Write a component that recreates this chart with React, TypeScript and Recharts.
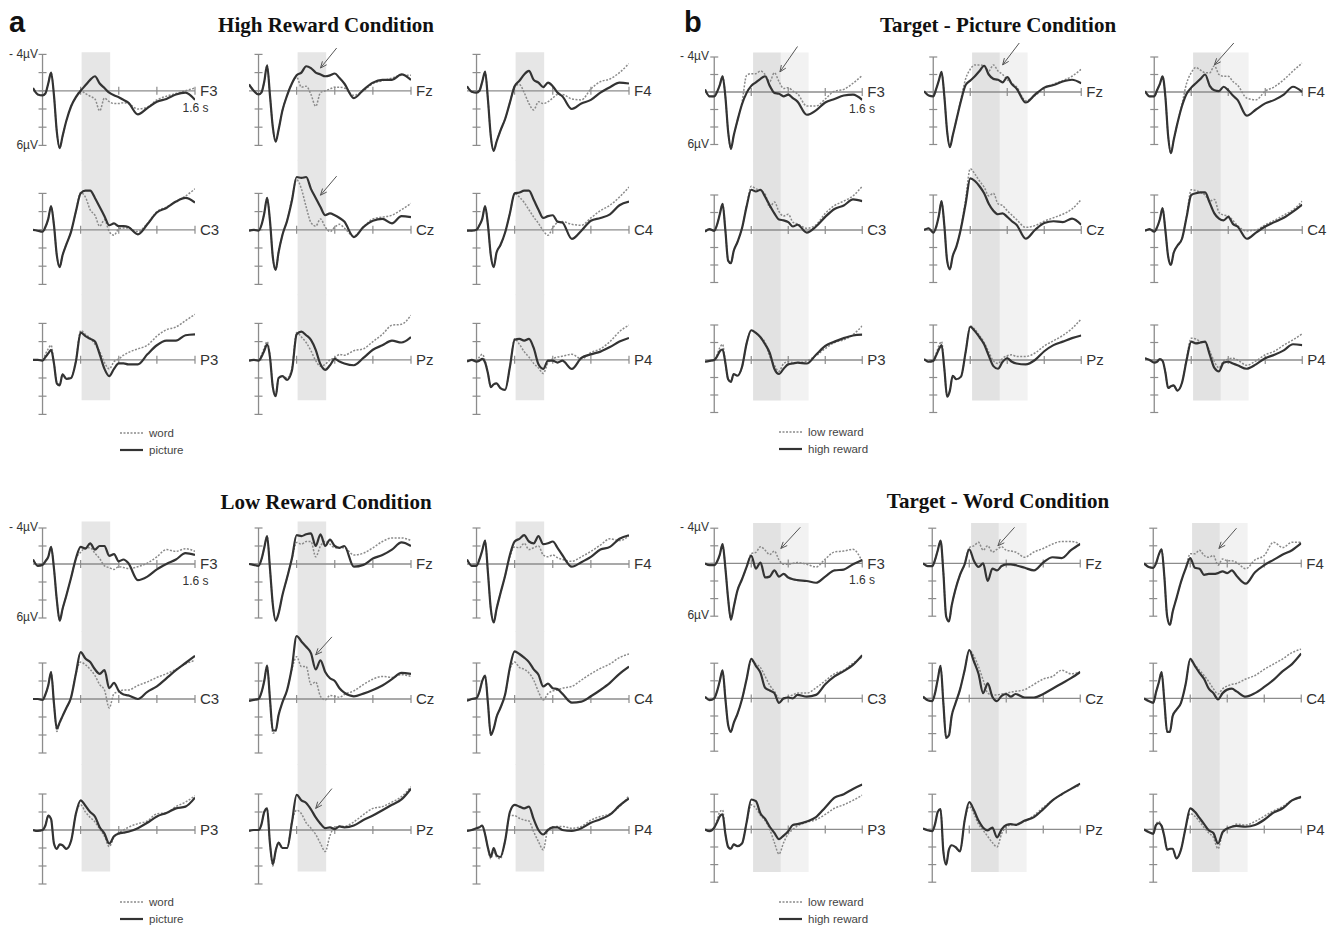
import { LineChart, Line, XAxis, YAxis, ReferenceLine, ReferenceArea } from 'recharts';

// shared time axis (s); denser sampling around the early components
const TIME = [-0.1, -0.05, 0, 0.03, 0.06, 0.09, 0.12, 0.15, 0.18, 0.21, 0.25, 0.3, 0.35, 0.4, 0.45, 0.5, 0.55, 0.6, 0.65, 0.7, 0.75, 0.8, 0.85, 0.9, 1.0, 1.1, 1.2, 1.3, 1.4, 1.5, 1.6];

// a) High Reward Condition, µV (negative plotted up) - picture (solid) / word (dotted)
const hiF3pic = [-0.3, 0.4, 0.5, 0.3, -0.8, -2.0, 0.5, 4.5, 6.3, 5.0, 3.3, 1.7, 0.7, 0, -0.6, -1.2, -1.6, -0.8, -0.3, 0.2, 0.5, 0.7, 1.0, 1.3, 2.6, 1.9, 1.2, 0.9, 0.4, 0.2, 1.0];
const hiF3word = [-0.3, 0.4, 0.5, 0.3, -0.8, -2.0, 0.5, 4.5, 6.3, 5.0, 3.3, 1.7, 0.7, 0, 0.3, 0.6, 0.9, 2.2, 0.8, 1.2, 1.4, 1.4, 1.3, 1.4, 2.0, 1.8, 1.0, 0.6, 0.3, 0, -0.3];
const hiFzpic = [-0.7, 0, 0.4, 0.2, -1.0, -2.8, 0.5, 4.0, 5.6, 4.3, 2.2, 0.5, -0.8, -1.7, -2.0, -2.7, -2.5, -2.0, -1.8, -1.6, -1.7, -1.9, -1.4, -0.8, 0.8, -0.1, -0.9, -1.2, -1.2, -1.8, -1.2];
const hiFzword = [-0.7, 0, 0.4, 0.2, -1.0, -2.8, 0.5, 4.0, 5.6, 4.3, 2.2, 0.5, -0.8, -1.5, -0.4, -0.5, 0.4, 1.7, 0.2, 0, -0.2, -0.4, -0.4, -0.3, 0.5, 0, -0.8, -1.1, -1.4, -1.7, -1.7];
const hiF4pic = [-0.5, 0.1, 0.2, 0, -1.0, -2.1, 1.0, 5.0, 6.6, 5.6, 4.4, 3.1, 1.3, -0.5, -1.1, -1.8, -2.2, -1.2, -0.9, -0.4, -0.9, -0.5, 0.2, 0.6, 2.0, 1.4, 1.0, 0.2, -0.4, -0.9, -0.8];
const hiF4word = [-0.5, 0.1, 0.2, 0, -1.0, -2.1, 1.0, 5.0, 6.6, 5.6, 4.4, 3.1, 1.3, -0.5, -0.7, 0.2, 1.4, 2.1, 1.2, 1.4, 1.2, 0.8, 0.4, 0.4, 0.9, 1.0, -0.2, -1.0, -1.3, -2.0, -3.0];
const hiC3pic = [0, 0.1, 0.2, -0.3, -1.2, -2.6, -0.5, 2.8, 4.1, 2.8, 1.6, 0.2, -2.0, -4.0, -4.3, -4.3, -3.5, -2.5, -1.5, -0.5, -0.7, -0.4, -0.4, -0.3, 0.5, -0.6, -1.9, -2.4, -3.1, -3.5, -3.0];
const hiC3word = [0, 0.1, 0.2, -0.3, -1.2, -2.6, -0.5, 2.8, 4.1, 2.8, 1.6, 0.2, -2.0, -4.1, -3.6, -2.2, -1.6, -0.4, -1.1, 0.2, 0.6, -0.1, -0.2, -0.2, 0.2, -0.7, -2.0, -2.5, -3.1, -3.7, -4.5];
const hiCzpic = [0.1, 0, 0.1, -0.5, -1.8, -3.5, -1.0, 3.0, 4.4, 2.5, 0.6, -1.0, -3.2, -5.8, -5.7, -5.8, -4.5, -3.5, -2.5, -1.6, -1.8, -1.6, -1.3, -0.9, 0.8, -0.3, -1.0, -1.2, -0.7, -1.5, -1.4];
const hiCzword = [0.1, 0, 0.1, -0.5, -1.8, -3.5, -1.0, 3.0, 4.4, 2.5, 0.6, -1.0, -3.4, -5.5, -4.5, -2.5, -0.8, -0.4, -1.2, -0.3, 0.2, -0.3, -0.6, -0.2, 0.7, -0.3, -1.2, -1.4, -1.6, -2.2, -2.9];
const hiC4pic = [0.1, 0.1, 0, -0.5, -1.2, -2.6, -0.5, 2.8, 4.1, 2.5, 1.7, 0.3, -1.8, -4.0, -4.1, -4.3, -4.3, -3.3, -2.2, -1.3, -1.5, -1.6, -0.9, -0.8, 1.0, 0.1, -1.0, -1.3, -1.7, -2.7, -3.1];
const hiC4word = [0.1, 0.1, 0, -0.5, -1.2, -2.6, -0.5, 2.8, 4.1, 2.5, 1.7, 0.3, -1.8, -4.0, -3.6, -3.0, -2.2, -1.4, -0.7, 0.1, 0.6, -0.2, -0.8, -0.9, -0.6, -0.5, -1.3, -2.1, -2.7, -3.6, -4.7];
const hiP3pic = [0, 0, 0.1, -0.3, -0.7, -1.1, 0.4, 2.6, 2.8, 1.6, 2.1, 2.0, 0.2, -3.0, -2.6, -2.3, -2.0, -0.6, 1.0, 1.8, 1.0, 0.4, 0.4, 0.5, 0.5, -0.6, -1.6, -2.1, -2.1, -2.7, -2.8];
const hiP3word = [0, 0, 0.1, -0.6, -1.2, -1.6, 0.3, 2.5, 2.8, 1.6, 2.0, 1.9, 0.1, -3.2, -2.8, -2.4, -1.7, -0.9, 0.3, 1.0, 0.2, -0.1, -0.5, -0.8, -1.2, -1.6, -2.6, -3.3, -3.6, -4.3, -5.0];
const hiPzpic = [0.1, 0, 0.1, -0.3, -1.0, -1.7, -0.3, 3.0, 4.0, 2.0, 1.8, 2.2, 1.2, -2.8, -3.1, -2.7, -2.2, -1.1, 0.5, 1.1, 0.6, -0.1, 0.2, 0.4, 0.6, -0.2, -1.1, -1.6, -2.1, -1.9, -2.5];
const hiPzword = [0.1, 0, 0.1, -0.5, -1.3, -2.0, -0.5, 2.9, 4.0, 2.0, 1.8, 2.0, 1.0, -3.0, -2.5, -1.9, -1.0, 0.1, 0.7, 0.5, 0, -0.2, -0.6, -0.5, -1.0, -1.2, -2.0, -2.8, -3.8, -3.9, -4.9];
const hiP4pic = [0.2, 0, 0.2, 0.1, -0.1, 0.3, 1.5, 3.0, 2.7, 2.6, 3.1, 3.3, 0.8, -2.2, -2.3, -2.1, -2.3, -1.3, 0.5, 1.0, 0.1, 0.1, 0.3, 0.1, 1.0, -0.2, -0.6, -0.9, -1.4, -2.0, -2.4];
const hiP4word = [0.2, 0, 0.2, -0.3, -0.6, 0.1, 1.5, 3.0, 2.7, 2.6, 3.1, 3.3, 0.8, -2.3, -1.7, -0.9, -0.3, 0.4, 0.9, 1.5, 0.3, -0.1, -0.3, -0.4, -0.6, -0.1, -0.8, -1.2, -2.0, -3.1, -3.8];

// a) Low Reward Condition
const loF3pic = [-0.5, 0.2, 0.1, -0.3, -0.8, -1.9, 0.5, 4.0, 6.3, 5.0, 3.5, 1.5, -0.6, -1.9, -1.7, -2.3, -1.6, -2.0, -2.0, -0.9, -1.1, -0.3, -0.5, -0.1, 1.8, 1.4, 0.6, 0, -0.5, -1.2, -1.0];
const loF3word = [-0.5, 0.2, 0.1, -0.3, -0.8, -1.9, 0.5, 4.0, 6.3, 5.0, 3.5, 1.5, -0.6, -1.3, -1.8, -1.8, -1.2, -0.6, 0.2, 0.4, 0.6, 0.3, 0.4, 0.5, 0.3, -0.1, -0.8, -1.6, -1.4, -1.7, -1.4];
const loFzpic = [0, 0.1, 0.2, -0.5, -1.8, -3.1, 0.5, 4.5, 6.3, 5.5, 3.5, 1.5, -0.6, -3.2, -3.1, -3.3, -3.4, -2.0, -3.3, -2.0, -2.7, -2.0, -1.8, -2.0, 0.3, 0.1, -0.6, -1.0, -1.6, -2.4, -2.0];
const loFzword = [0, 0.1, 0.2, -0.5, -1.8, -3.1, 0.5, 4.5, 6.3, 5.5, 3.5, 1.5, -0.6, -2.4, -2.2, -2.5, -2.5, -0.8, -2.0, -2.5, -2.2, -1.8, -1.8, -1.8, -1.0, -1.2, -1.8, -2.5, -2.9, -2.9, -2.6];
const loF4pic = [-0.5, 0.2, 0.2, -0.5, -1.5, -2.6, 1.0, 5.0, 6.5, 5.0, 3.3, 1.3, -1.0, -2.5, -2.8, -3.2, -2.5, -2.3, -3.1, -2.2, -2.3, -2.5, -1.8, -1.0, 0.3, -0.2, -0.8, -1.6, -1.9, -2.8, -3.2];
const loF4word = [-0.5, 0.2, 0.2, -0.5, -1.5, -2.6, 1.0, 5.0, 6.5, 5.0, 3.3, 1.3, -0.8, -1.9, -1.8, -2.3, -1.6, -1.8, -2.0, -1.0, -0.8, -1.0, -0.7, -0.5, -0.3, -0.8, -1.4, -2.1, -2.8, -2.6, -3.1];
const loC3pic = [0, 0, 0.1, -0.5, -1.5, -3.0, 0.5, 3.3, 2.6, 1.9, 1.0, -0.2, -2.8, -5.2, -4.5, -4.1, -3.3, -2.8, -3.2, -1.2, -1.8, -0.9, -0.5, -0.4, 0, -0.8, -1.4, -2.3, -3.2, -4.0, -4.8];
const loC3word = [0, 0, 0.1, -0.5, -1.5, -3.0, 0.5, 3.6, 2.7, 1.9, 1.0, -0.2, -2.8, -4.1, -3.8, -3.3, -2.6, -1.6, -1.0, 1.0, -0.6, -0.8, -1.0, -1.0, -1.5, -1.9, -2.4, -2.8, -3.3, -3.9, -4.3];
const loCzpic = [0.2, 0.1, 0, -0.7, -2.0, -3.7, 0, 3.5, 3.5, 1.8, 0.4, -1.0, -3.5, -7.0, -6.4, -5.8, -5.1, -3.3, -4.3, -3.0, -2.3, -2.0, -1.2, -0.7, -0.3, -0.6, -1.0, -1.5, -2.2, -2.9, -2.8];
const loCzword = [0.2, 0.1, 0, -0.7, -2.0, -3.7, 0, 3.8, 3.6, 1.8, 0.4, -1.0, -3.3, -4.7, -3.6, -3.6, -1.6, -1.9, -0.3, 0.1, -0.4, -0.3, -0.2, -0.5, -0.9, -1.6, -2.2, -2.5, -2.4, -2.7, -2.5];
const loC4pic = [0.2, 0, -0.1, -0.8, -2.0, -2.6, 0.5, 4.0, 3.3, 2.0, 1.0, -0.5, -3.5, -5.3, -5.0, -4.6, -4.1, -3.3, -2.7, -1.4, -1.7, -1.2, -1.1, -0.6, 0.4, 0.3, -0.3, -1.0, -1.8, -2.8, -3.6];
const loC4word = [0.2, 0, -0.1, -0.8, -2.0, -2.6, 0.5, 4.0, 3.3, 2.0, 1.0, -0.5, -3.3, -4.1, -3.5, -3.3, -2.9, -2.1, -0.8, 0.1, -0.6, -0.9, -1.0, -1.2, -1.4, -2.1, -2.8, -3.4, -3.9, -4.6, -5.0];
const loP3pic = [0, 0.1, 0, -0.5, -1.6, -1.2, 1.5, 2.1, 1.6, 1.7, 2.1, 1.2, -1.8, -3.3, -2.7, -2.0, -1.5, -0.3, 0.4, 1.5, 0.7, 0.4, 0.3, 0.2, -0.2, -0.8, -1.5, -1.9, -2.4, -2.6, -3.6];
const loP3word = [0, 0.1, 0, -0.5, -1.6, -1.2, 1.5, 2.1, 1.6, 1.7, 2.1, 1.2, -1.8, -2.8, -2.0, -1.4, -0.9, -0.1, 0.7, 1.85, 0.8, 0.3, 0, -0.3, -0.7, -1.0, -1.8, -1.9, -2.6, -3.1, -3.8];
const loPzpic = [0.1, 0, 0, -0.6, -2.0, -2.4, 1.5, 3.8, 2.3, 1.4, 2.0, 2.0, -0.8, -3.9, -3.3, -3.0, -2.3, -1.4, -0.7, -0.2, -0.3, -0.1, -0.4, -0.3, -0.5, -1.1, -1.6, -2.2, -2.8, -3.4, -4.6];
const loPzword = [0.1, 0, 0, -0.6, -2.0, -2.4, 1.5, 4.0, 2.3, 1.4, 2.0, 2.0, -0.9, -2.2, -1.8, -0.8, -0.2, 0.5, 1.5, 2.4, 0.6, -0.3, -0.4, -0.4, -0.9, -1.7, -2.4, -2.6, -3.1, -3.7, -4.8];
const loP4pic = [0.1, 0, -0.2, -0.3, -0.5, 0.5, 2.0, 3.0, 2.0, 2.8, 3.0, 1.2, -2.0, -2.8, -2.6, -2.4, -2.6, -1.2, 0, 0.5, 0, -0.3, -0.3, 0, 0.1, -0.2, -0.8, -1.2, -1.7, -2.7, -3.5];
const loP4word = [0.1, 0, -0.2, -0.3, -0.5, 0.5, 2.0, 3.2, 2.2, 3.0, 3.2, 1.2, -1.6, -1.6, -1.3, -1.1, -1.0, 0.2, 1.3, 2.2, -0.1, -0.3, -0.4, -0.4, -0.2, -0.4, -1.1, -1.5, -1.8, -2.6, -3.8];

// b) Target - Picture Condition - high reward (solid) / low reward (dotted)
const tpF3high = [-0.3, 0.5, 0.5, 0, -0.8, -1.8, 0.5, 4.5, 6.5, 5.0, 3.3, 1.4, 0.1, -0.7, -1.1, -1.5, -1.8, -0.7, 0.1, 0.2, 0.5, 0.3, 0.7, 1.1, 2.6, 2.1, 1.2, 0.8, 0.4, 0.3, 0.9];
const tpF3low = [-0.3, 0.5, 0.5, 0, -0.8, -1.8, 0.5, 4.5, 6.5, 5.0, 3.3, 1.2, -1.9, -2.1, -2.1, -2.4, -2.0, -1.2, -2.2, -1.2, -0.4, -0.5, -0.1, 0.2, 1.6, 1.6, 0.8, -0.1, -0.3, -1.0, -1.9];
const tpFzhigh = [-0.1, 0.4, 0.5, -0.3, -1.3, -2.3, 0.5, 4.5, 6.3, 5.0, 3.2, 1.0, -0.8, -1.3, -1.8, -2.4, -3.0, -2.0, -1.5, -1.4, -1.1, -1.7, -0.9, -0.4, 1.2, 0.3, -0.5, -0.8, -1.2, -1.4, -1.0];
const tpFzlow = [-0.1, 0.4, 0.5, -0.3, -1.3, -2.3, 0.5, 4.5, 6.3, 5.0, 3.2, 0.8, -1.5, -2.6, -3.1, -3.1, -3.0, -2.4, -3.1, -2.4, -2.0, -1.4, -1.0, -0.6, 1.0, 0.4, -0.4, -0.9, -1.3, -1.8, -2.6];
const tpF4high = [-0.1, 0.5, 0.5, -0.2, -0.9, -1.8, 0.5, 5.0, 7.0, 5.5, 3.6, 1.6, 0.2, -0.5, -1.0, -1.5, -2.0, -0.7, -0.2, -0.1, -0.6, -0.2, 0.4, 0.9, 2.7, 2.0, 1.3, 0.9, 0.3, -0.6, 0];
const tpF4low = [-0.1, 0.5, 0.5, -0.2, -0.9, -1.8, 0.5, 5.0, 7.0, 5.5, 3.6, 1.4, -1.0, -2.2, -2.8, -2.5, -2.2, -2.2, -3.0, -2.0, -1.8, -1.8, -1.2, -0.8, 0.7, 0.9, -0.1, -0.6, -1.4, -2.4, -3.3];
const tpC3high = [0.2, -0.1, 0.1, -0.6, -1.8, -3.0, 0, 3.5, 3.8, 2.4, 1.4, -0.2, -2.7, -4.6, -4.4, -4.6, -3.8, -2.8, -1.9, -1.2, -1.1, -0.9, -0.4, -0.6, 0.3, -0.4, -1.5, -2.4, -2.8, -3.5, -3.3];
const tpC3low = [0.2, -0.1, 0.1, -0.6, -1.8, -3.0, 0, 3.5, 3.8, 2.4, 1.4, -0.2, -2.8, -5.0, -4.7, -4.5, -4.1, -2.6, -3.2, -2.1, -1.6, -1.8, -0.9, -0.7, -0.2, -0.6, -1.9, -2.8, -3.3, -3.9, -5.0];
const tpCzhigh = [0, -0.2, 0.3, -0.3, -1.6, -3.3, -0.5, 3.5, 4.5, 3.0, 1.9, -0.2, -3.0, -5.9, -5.6, -5.0, -4.2, -3.0, -2.2, -1.8, -1.9, -1.5, -1.0, -0.6, 1.0, 0, -0.8, -1.0, -0.9, -1.3, -0.6];
const tpCzlow = [0, -0.2, 0.3, -0.3, -1.6, -3.3, -0.5, 3.5, 4.5, 3.0, 1.9, -0.3, -3.5, -7.0, -6.4, -5.6, -4.9, -3.9, -4.2, -3.0, -2.8, -2.2, -1.7, -1.2, -0.3, -0.5, -1.0, -1.4, -1.8, -2.4, -3.5];
const tpC4high = [0.1, -0.1, 0.2, -0.3, -1.2, -2.5, 0, 3.0, 4.0, 2.6, 1.8, 1.0, -1.5, -4.0, -4.2, -4.3, -4.3, -3.1, -1.9, -1.3, -1.1, -1.5, -0.7, -0.4, 1.0, 0.3, -0.4, -0.9, -1.4, -2.1, -2.9];
const tpC4low = [0.1, -0.1, 0.2, -0.3, -1.2, -2.5, 0, 3.0, 4.0, 2.6, 1.8, 1.0, -1.6, -4.6, -4.5, -4.3, -4.0, -3.3, -3.5, -2.0, -1.7, -1.6, -1.1, -0.5, 0.1, 0, -0.6, -1.1, -1.7, -2.3, -3.3];
const tpP3high = [0.2, 0.1, 0, -0.4, -1.0, -1.2, 0.3, 2.2, 2.5, 1.6, 1.8, 0.8, -1.9, -3.4, -3.1, -2.6, -1.8, -0.8, 1.0, 1.6, 1.0, 0.5, 0.4, 0.3, 0.4, -0.6, -1.6, -2.1, -2.5, -2.8, -2.9];
const tpP3low = [0.2, 0.1, 0, -0.6, -1.4, -1.8, 0.3, 2.2, 2.5, 1.6, 1.8, 0.8, -1.9, -3.4, -3.1, -2.6, -2.0, -0.4, 0.6, 1.3, 0.4, 0.2, 0.3, 0.3, 0.1, -0.5, -1.3, -2.0, -2.3, -2.9, -3.9];
const tpPzhigh = [-0.1, 0.2, 0.1, -0.5, -1.2, -1.7, 1.0, 4.2, 3.5, 1.8, 2.2, 1.9, -0.9, -3.8, -3.3, -2.6, -1.8, -0.5, 0.7, 1.0, 0.2, -0.2, 0.2, 0.4, 0.5, 0, -1.0, -1.7, -2.1, -2.5, -2.8];
const tpPzlow = [-0.1, 0.2, 0.1, -0.7, -1.6, -2.1, 1.0, 4.2, 3.5, 1.8, 2.2, 1.9, -0.9, -3.9, -3.5, -2.8, -2.0, -0.9, 0.1, 0.4, -0.2, -0.5, -0.6, -0.4, -0.4, -0.8, -1.6, -2.2, -2.8, -3.6, -4.7];
const tpP4high = [-0.2, 0, 0.3, 0.2, -0.1, 0.1, 1.4, 3.2, 3.0, 2.9, 3.5, 2.6, 0, -2.1, -1.9, -2.0, -2.1, -0.6, 0.9, 1.3, 0.3, 0.2, 0.4, 0.6, 1.0, 0.5, -0.2, -0.6, -1.1, -1.8, -1.7];
const tpP4low = [-0.2, 0, 0.3, 0.2, -0.1, 0.1, 1.4, 3.2, 3.0, 2.9, 3.5, 2.6, -0.2, -2.5, -2.4, -2.1, -2.0, -1.0, 0.2, 0.9, 0.1, -0.1, -0.2, 0, 0.6, 0.1, -0.6, -1.0, -1.7, -2.3, -3.0];

// b) Target - Word Condition
const twF3high = [0, 0.2, 0.2, -0.2, -1.0, -2.2, 0.5, 4.0, 6.4, 5.0, 3.1, 1.8, 0.4, -0.9, 0.6, -0.1, 1.6, 1.5, 0.8, 1.5, 1.2, 1.6, 1.8, 1.9, 2.0, 2.2, 1.5, 0.8, 0.7, 0.1, -0.4];
const twF3low = [0, 0.2, 0.2, -0.2, -1.0, -2.2, 0.5, 4.0, 6.4, 5.0, 3.1, 1.8, 0.4, -1.1, -1.25, -1.9, -1.5, -1.0, -1.4, -0.4, 0.1, 0.1, 0, -0.1, 0.1, 0.4, -0.5, -1.3, -1.4, -1.6, -0.2];
const twFzhigh = [0, 0.3, 0.3, -0.4, -1.5, -2.6, 1.0, 6.0, 6.6, 4.8, 3.0, 1.3, 0.1, -1.6, -0.3, 0.4, 0, 2.0, 0.6, 0.8, 0.3, 0.1, 0.1, 0.2, 0.5, 0.8, -0.1, -0.7, -0.6, -1.5, -2.2];
const twFzlow = [0, 0.3, 0.3, -0.4, -1.5, -2.6, 1.0, 6.0, 6.6, 4.8, 3.0, 1.3, 0.1, -1.8, -2.0, -2.4, -1.5, -2.0, -1.3, -1.6, -1.9, -1.5, -1.4, -1.3, -0.7, -1.3, -1.7, -2.2, -2.5, -2.5, -2.2];
const twF4high = [0, 0.4, 0.5, 0, -1.0, -1.6, 1.5, 6.0, 7.0, 5.5, 4.0, 2.1, 0.6, -0.6, 0.5, 0.6, 1.3, 1.2, 1.2, 1.1, 0.9, 1.1, 0.8, 1.4, 2.3, 1.0, 0.2, -0.4, -1.0, -1.5, -2.3];
const twF4low = [0, 0.4, 0.5, 0, -1.0, -1.6, 1.5, 6.0, 7.0, 5.5, 4.0, 2.1, 0.6, -1.1, -1.1, -1.5, -0.9, -0.7, -0.9, 0.2, -0.5, -0.3, -0.3, -0.1, 0.6, -0.4, -0.9, -2.4, -1.8, -2.4, -2.4];
const twC3high = [-0.2, 0.2, 0, -0.8, -2.0, -3.2, 0, 3.0, 3.8, 2.8, 1.8, 0.1, -2.2, -4.5, -3.7, -2.9, -1.2, -0.9, -0.6, 0.5, 0, -0.1, 0, -0.4, -0.2, -0.4, -1.6, -2.5, -3.1, -3.8, -4.9];
const twC3low = [-0.2, 0.2, 0, -0.8, -2.0, -3.2, 0, 3.0, 3.8, 2.8, 1.8, 0.1, -2.2, -4.3, -3.9, -3.5, -2.5, -1.5, -0.8, 0, 0.1, -0.2, -0.4, -0.6, -0.6, -1.2, -2.0, -2.8, -3.2, -4.0, -4.7];
const twCzhigh = [-0.2, 0.2, 0.3, -0.6, -2.2, -3.7, 0.5, 4.5, 4.2, 2.0, 0.6, -1.0, -3.2, -5.5, -4.2, -2.8, -0.6, -1.7, -0.2, 0.3, -0.3, -0.5, -0.2, -0.5, -0.1, -0.1, -0.5, -1.1, -1.7, -2.3, -3.0];
const twCzlow = [-0.2, 0.2, 0.3, -0.6, -2.2, -3.7, 0.5, 4.5, 4.2, 2.0, 0.6, -1.0, -3.2, -5.5, -4.8, -3.6, -2.1, -0.6, -0.4, -0.4, -0.5, -0.6, -0.7, -0.8, -1.0, -1.6, -2.2, -2.5, -3.2, -2.8, -3.0];
const twC4high = [0, 0.3, 0.5, -0.7, -1.8, -3.0, 0.3, 3.8, 3.8, 2.0, 1.3, 0.5, -1.6, -4.5, -3.7, -2.9, -2.2, -1.1, -0.6, 0.1, -0.6, -1.0, -1.1, -0.8, -0.2, -0.6, -1.3, -2.1, -3.1, -3.9, -5.1];
const twC4low = [0, 0.3, 0.5, -0.7, -1.8, -3.0, 0.3, 3.8, 3.8, 2.0, 1.3, 0.5, -1.6, -4.3, -3.8, -3.2, -2.6, -1.9, -1.1, -0.5, -1.1, -1.4, -1.6, -1.7, -2.2, -2.6, -3.3, -3.9, -4.5, -5.2, -5.6];
const twP3high = [0, 0.2, -0.2, -0.8, -1.5, -1.7, 0.5, 2.0, 2.2, 1.7, 1.9, 1.6, -0.8, -3.4, -3.2, -1.8, -1.2, -0.3, 0.4, 1.1, 0.7, 0.2, -0.5, -0.6, -0.9, -1.4, -2.5, -3.6, -4.0, -4.6, -5.1];
const twP3low = [0, 0.2, -0.2, -1.0, -2.0, -2.2, 0.5, 2.0, 2.2, 1.7, 1.9, 1.6, -0.8, -2.8, -2.4, -1.6, -1.0, 0, 1.5, 2.8, 1.5, 0.5, 0, -0.4, -0.8, -1.1, -1.7, -2.4, -2.8, -3.3, -3.9];
const twPzhigh = [-0.1, 0.1, 0.2, -0.6, -2.0, -2.3, 2.5, 4.0, 2.3, 1.8, 2.0, 2.5, -1.0, -3.1, -2.2, -1.0, -0.2, 0.1, -0.2, 0.9, 0, -0.5, -0.6, -0.5, -1.0, -1.4, -2.3, -3.3, -4.0, -4.6, -5.2];
const twPzlow = [-0.1, 0.1, 0.2, -0.6, -2.0, -2.3, 2.5, 4.0, 2.3, 1.8, 2.0, 2.5, -1.0, -2.6, -1.8, -0.6, 0.1, 0.8, 1.5, 2.0, 0.5, -0.3, -0.5, -0.6, -0.9, -1.6, -2.5, -3.3, -4.0, -4.6, -5.0];
const twP4high = [0, 0.3, 0.5, -0.5, -0.7, -0.4, 0.8, 2.3, 2.2, 2.2, 3.3, 2.3, -0.2, -2.4, -2.0, -1.3, -0.6, 0.1, 0.4, 1.6, 0.3, -0.1, -0.3, -0.4, -0.3, -0.5, -1.1, -1.9, -2.4, -3.3, -3.7];
const twP4low = [0, 0.3, 0.5, -0.6, -0.9, -0.4, 0.8, 2.3, 2.2, 2.2, 3.3, 2.3, -0.2, -1.8, -1.5, -0.9, -0.2, 0.4, 0.9, 2.2, 0.4, 0, -0.3, -0.6, -0.5, -0.9, -1.5, -2.1, -2.6, -3.3, -3.6];

const ELECTRODES = [['F3', 'Fz', 'F4'], ['C3', 'Cz', 'C4'], ['P3', 'Pz', 'P4']];
const Y_TICKS = [-4, -2, 0, 2, 4, 6];
const X_TICKS = [0.4, 0.8, 1.2, 1.6];
const WINDOW_A = [0.41, 0.71];
const WINDOW_B = [0.42, 0.72, 1.02];

// [solid, dotted] per electrode
const WAVES: Record<string, Record<string, number[][]>> = {
  hi: { F3: [hiF3pic, hiF3word], Fz: [hiFzpic, hiFzword], F4: [hiF4pic, hiF4word], C3: [hiC3pic, hiC3word], Cz: [hiCzpic, hiCzword], C4: [hiC4pic, hiC4word], P3: [hiP3pic, hiP3word], Pz: [hiPzpic, hiPzword], P4: [hiP4pic, hiP4word] },
  lo: { F3: [loF3pic, loF3word], Fz: [loFzpic, loFzword], F4: [loF4pic, loF4word], C3: [loC3pic, loC3word], Cz: [loCzpic, loCzword], C4: [loC4pic, loC4word], P3: [loP3pic, loP3word], Pz: [loPzpic, loPzword], P4: [loP4pic, loP4word] },
  tp: { F3: [tpF3high, tpF3low], Fz: [tpFzhigh, tpFzlow], F4: [tpF4high, tpF4low], C3: [tpC3high, tpC3low], Cz: [tpCzhigh, tpCzlow], C4: [tpC4high, tpC4low], P3: [tpP3high, tpP3low], Pz: [tpPzhigh, tpPzlow], P4: [tpP4high, tpP4low] },
  tw: { F3: [twF3high, twF3low], Fz: [twFzhigh, twFzlow], F4: [twF4high, twF4low], C3: [twC3high, twC3low], Cz: [twCzhigh, twCzlow], C4: [twC4high, twC4low], P3: [twP3high, twP3low], Pz: [twPzhigh, twPzlow], P4: [twP4high, twP4low] },
};

// arrows pointing at the effect: [t tail, µV tail, t head, µV head]
const ARROWS: Record<string, Record<string, number[]>> = {
  hi: { Fz: [0.82, -4.7, 0.65, -2.5], Cz: [0.82, -5.9, 0.65, -3.8] },
  lo: { Cz: [0.77, -6.9, 0.6, -4.9], Pz: [0.77, -4.6, 0.6, -2.4] },
  tp: { F3: [0.9, -5.2, 0.71, -2.3], Fz: [0.93, -5.6, 0.75, -3.1], F4: [0.86, -5.6, 0.65, -3.1] },
  tw: { F3: [0.93, -4.1, 0.72, -1.7], Fz: [0.89, -4.1, 0.71, -2.0], F4: [0.9, -4.0, 0.71, -1.7] },
};

const PANELS = [
  { id: 'hi', title: 'High Reward Condition', letter: 'a', legend: ['word', 'picture'], win: WINDOW_A, cols: [43, 259, 477], rows: [91, 230, 360], sec: 95.3, uv: 9.1, shade: [53, 400], titleX: 326, titleY: 25, legendX: 120, legendY: 432 },
  { id: 'lo', title: 'Low Reward Condition', letter: '', legend: ['word', 'picture'], win: WINDOW_A, cols: [43, 259, 477], rows: [564, 699, 830], sec: 95.3, uv: 9.0, shade: [522, 871], titleX: 326, titleY: 502, legendX: 120, legendY: 901 },
  { id: 'tp', title: 'Target - Picture Condition', letter: 'b', legend: ['low reward', 'high reward'], win: WINDOW_B, cols: [714, 933, 1154], rows: [92, 230, 360], sec: 92.5, uv: 8.75, shade: [53, 400], titleX: 998, titleY: 25, legendX: 779, legendY: 431 },
  { id: 'tw', title: 'Target - Word Condition', letter: '', legend: ['low reward', 'high reward'], win: WINDOW_B, cols: [714, 932, 1153], rows: [563, 698, 829], sec: 92.5, uv: 8.8, shade: [523, 871], titleX: 998, titleY: 501, legendX: 779, legendY: 901 },
];

const T_MIN = -0.1;
const T_MAX = 1.6;
const V_MIN = -8;
const V_MAX = 8;
const LABEL_SPACE = 32;
const SANS = '"Liberation Sans", Arial, sans-serif';
const SERIF = '"Liberation Serif", "Times New Roman", serif';
const AXIS = '#8c8c8c';
const SOLID = '#333333';
const DOTTED = '#8a8a8a';

const Arrow = (props: any) => {
  const { x1, y1, x2, y2 } = props;
  const a = Math.atan2(y2 - y1, x2 - x1);
  const h = 7;
  const ax = x2 - h * Math.cos(a - 0.4);
  const ay = y2 - h * Math.sin(a - 0.4);
  const bx = x2 - h * Math.cos(a + 0.4);
  const by = y2 - h * Math.sin(a + 0.4);
  return (
    <g>
      <line x1={x1} y1={y1} x2={x2} y2={y2} stroke="#555" strokeWidth={1} />
      <polyline points={`${ax},${ay} ${x2},${y2} ${bx},${by}`} fill="none" stroke="#555" strokeWidth={1} />
    </g>
  );
};

function ErpPlot({ name, waves, x0, y0, p, row, arrow }: any) {
  const [solid, dotted] = waves;
  const data = TIME.map((t, i) => ({ t, solid: solid[i], dotted: dotted[i] }));
  const plotW = (T_MAX - T_MIN) * p.sec;
  const plotH = (V_MAX - V_MIN) * p.uv;
  const tx = 4 / p.sec;
  const ty = 4 / p.uv;
  // this row's slice of the shaded time window (the bands of the 3 rows join up)
  const bounds = [p.shade[0], (p.rows[0] + p.rows[1]) / 2, (p.rows[1] + p.rows[2]) / 2, p.shade[1]];
  const b1 = (bounds[row] - 0.5 - y0) / p.uv;
  const b2 = (bounds[row + 1] + 0.5 - y0) / p.uv;
  const win = p.win;
  return (
    <div style={{ position: 'absolute', left: x0 + T_MIN * p.sec, top: y0 + V_MIN * p.uv }}>
      <LineChart width={plotW + LABEL_SPACE} height={plotH} data={data} margin={{ top: 0, right: LABEL_SPACE, bottom: 0, left: 0 }}>
        <XAxis type="number" dataKey="t" domain={[T_MIN, T_MAX]} hide allowDataOverflow />
        <YAxis type="number" domain={[V_MIN, V_MAX]} reversed hide allowDataOverflow />
        <ReferenceArea x1={win[0]} x2={win[1]} y1={b1} y2={b2} fill={win.length > 2 ? '#e2e2e2' : '#e6e6e6'} fillOpacity={1} stroke="none" ifOverflow="visible" />
        {win.length > 2 && (
          <ReferenceArea x1={win[1]} x2={win[2]} y1={b1} y2={b2} fill="#f2f2f2" fillOpacity={1} stroke="none" ifOverflow="visible" />
        )}
        <ReferenceLine
          y={0}
          stroke={AXIS}
          strokeWidth={1.3}
          label={{ value: name, position: 'right', offset: 5, fill: '#333', fontSize: 15, fontFamily: SANS }}
        />
        <ReferenceLine segment={[{ x: 0, y: -4 }, { x: 0, y: 6 }]} stroke={AXIS} strokeWidth={1.3} />
        {Y_TICKS.map((v) => (
          <ReferenceLine key={'y' + v} segment={[{ x: -tx, y: v }, { x: tx, y: v }]} stroke={AXIS} strokeWidth={1.2} />
        ))}
        {X_TICKS.map((t) => (
          <ReferenceLine key={'x' + t} segment={[{ x: t, y: -ty }, { x: t, y: ty }]} stroke={AXIS} strokeWidth={1.2} />
        ))}
        <Line type="monotone" dataKey="dotted" stroke={DOTTED} strokeWidth={1.5} strokeDasharray="2 1.5" dot={false} isAnimationActive={false} />
        <Line type="monotone" dataKey="solid" stroke={SOLID} strokeWidth={2.2} dot={false} isAnimationActive={false} />
        {arrow && (
          <ReferenceLine
            segment={[{ x: arrow[0], y: arrow[1] }, { x: arrow[2], y: arrow[3] }]}
            shape={Arrow}
            ifOverflow="visible"
          />
        )}
      </LineChart>
    </div>
  );
}

function SeriesLegend({ x, y, labels }: any) {
  const row = { display: 'flex', alignItems: 'center', height: 17 };
  return (
    <div style={{ position: 'absolute', left: x, top: y - 8, fontFamily: SANS, fontSize: 11.5, color: '#444' }}>
      <div style={row}>
        <svg width={23} height={6}>
          <line x1={0} y1={3} x2={23} y2={3} stroke={DOTTED} strokeWidth={1.4} strokeDasharray="2 1.5" />
        </svg>
        <span style={{ marginLeft: 6 }}>{labels[0]}</span>
      </div>
      <div style={row}>
        <svg width={23} height={6}>
          <line x1={0} y1={3} x2={23} y2={3} stroke={SOLID} strokeWidth={2.2} />
        </svg>
        <span style={{ marginLeft: 6 }}>{labels[1]}</span>
      </div>
    </div>
  );
}

function Panel({ p }: any) {
  const x0 = p.cols[0];
  const f0 = p.rows[0];
  const small = { position: 'absolute' as const, fontFamily: SANS, fontSize: 12, color: '#333', whiteSpace: 'nowrap' as const };
  return (
    <>
      {ELECTRODES.map((names, r) =>
        names.map((name, c) => (
          <ErpPlot
            key={name}
            name={name}
            waves={WAVES[p.id][name]}
            x0={p.cols[c]}
            y0={p.rows[r]}
            row={r}
            p={p}
            arrow={ARROWS[p.id][name]}
          />
        ))
      )}
      <div style={{ ...small, right: 1336 - x0 + 5, top: f0 - 4 * p.uv - 8 }}>- 4µV</div>
      <div style={{ ...small, right: 1336 - x0 + 5, top: f0 + 6 * p.uv - 8 }}>6µV</div>
      <div style={{ ...small, left: x0 + 1.6 * p.sec - 13, top: f0 + 10 }}>1.6 s</div>
      <div
        style={{
          position: 'absolute',
          left: p.titleX,
          top: p.titleY - 12,
          transform: 'translateX(-50%)',
          fontFamily: SERIF,
          fontWeight: 'bold',
          fontSize: 21,
          lineHeight: '24px',
          color: '#111',
          whiteSpace: 'nowrap',
        }}
      >
        {p.title}
      </div>
      {p.letter && (
        <div
          style={{
            position: 'absolute',
            left: p.cols[0] < 100 ? 9 : 684,
            top: 6,
            fontFamily: SANS,
            fontWeight: 'bold',
            fontSize: 29,
            lineHeight: '32px',
            color: '#111',
          }}
        >
          {p.letter}
        </div>
      )}
      <SeriesLegend x={p.legendX} y={p.legendY} labels={p.legend} />
    </>
  );
}

export default function App() {
  return (
    <div style={{ position: 'absolute', left: 0, top: 0, width: 1336, height: 925, background: '#fff', overflow: 'hidden' }}>
      {PANELS.map((p) => (
        <Panel key={p.id} p={p} />
      ))}
    </div>
  );
}
